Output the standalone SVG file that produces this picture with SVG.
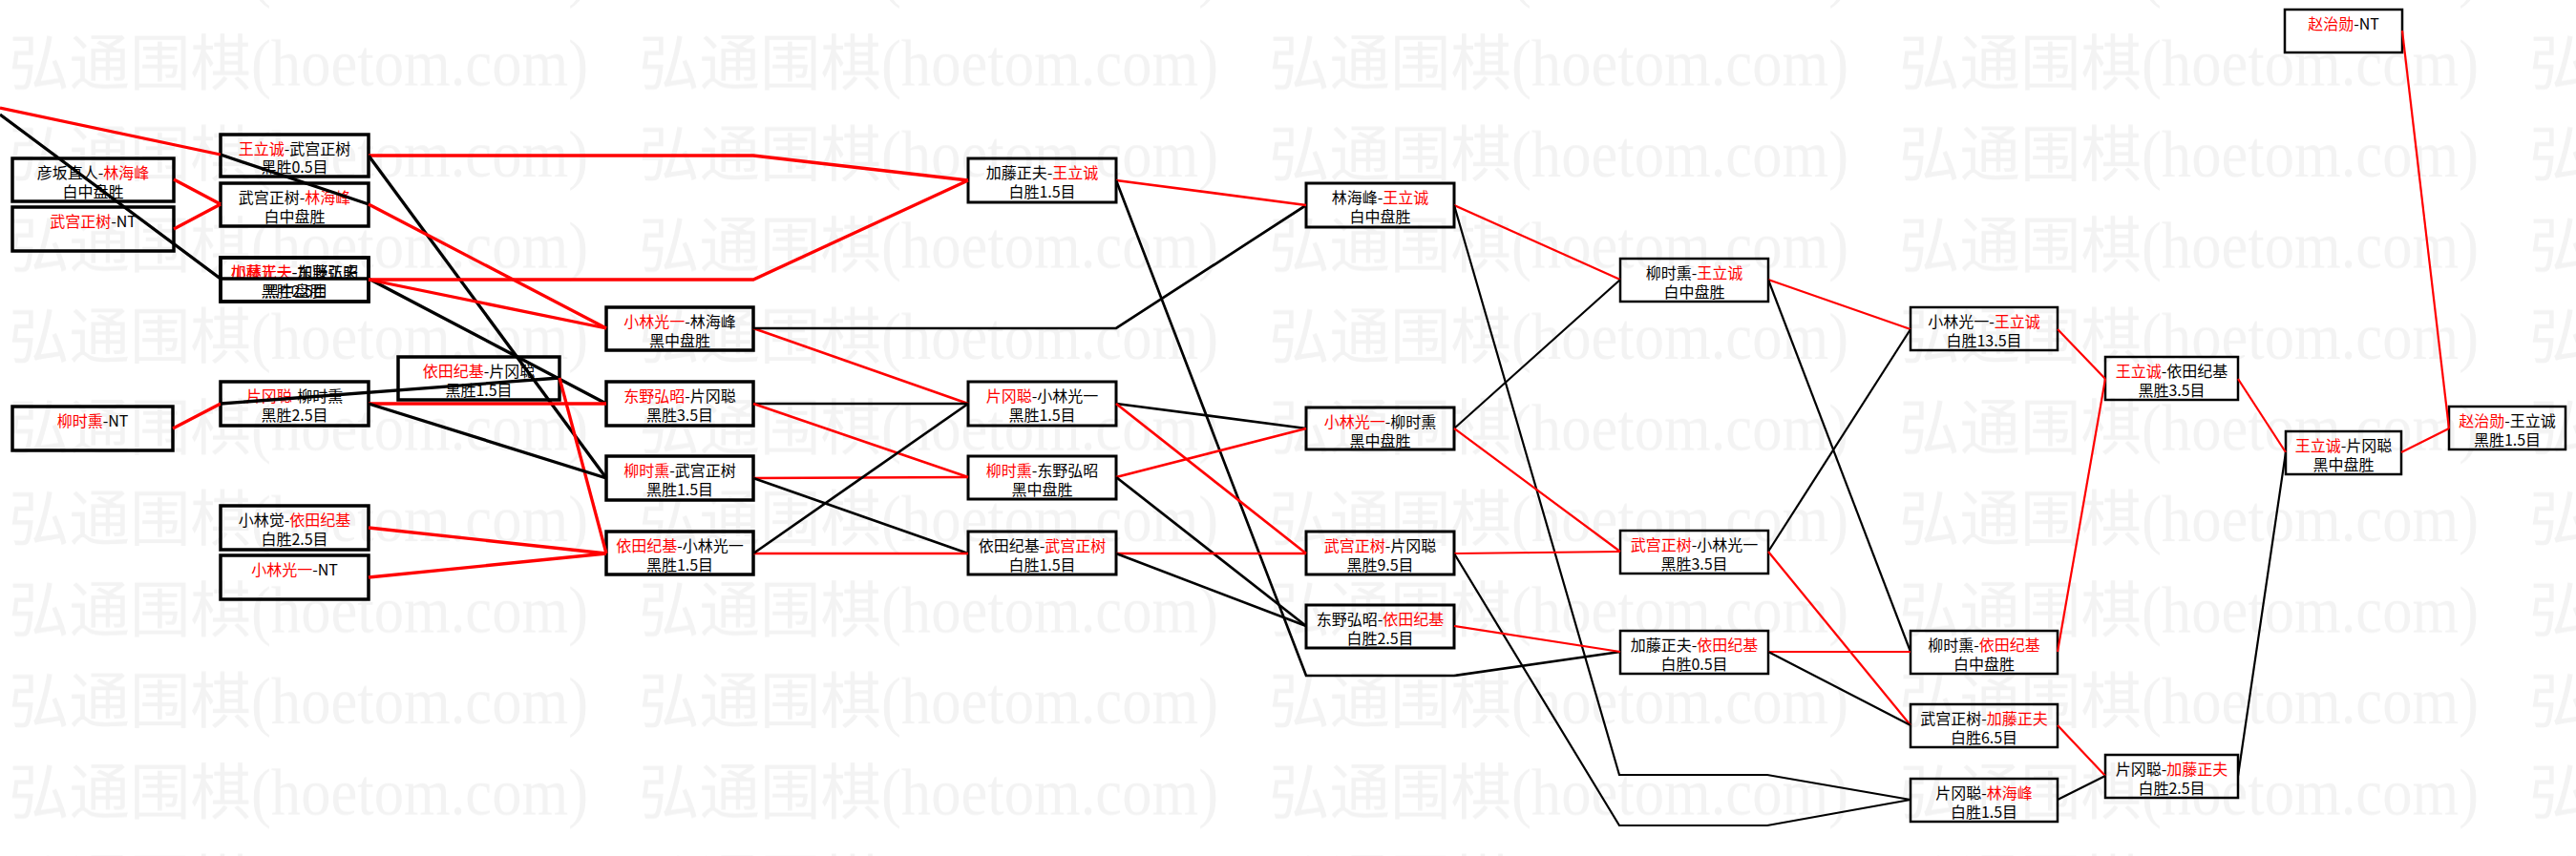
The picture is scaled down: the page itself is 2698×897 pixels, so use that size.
<svg xmlns="http://www.w3.org/2000/svg" width="2698" height="897" viewBox="0 0 2698 897">
<defs>
<style>
.t{font-family:'Noto Sans CJK SC','Noto Sans',sans-serif;font-size:16px;text-anchor:middle;fill:#000}
.red{fill:#f00}
.b1{fill:none;stroke:#000;stroke-width:3.5}
.b2{fill:none;stroke:#000;stroke-width:3}
.b3{fill:none;stroke:#000;stroke-width:2.5}
.c{fill:none;stroke-linejoin:miter}
.r{stroke:#f00}
.k{stroke:#000}
.w1{stroke-width:3.3}
.w2{stroke-width:2.7}
.w3{stroke-width:2.2}
.wmc{font-family:'Noto Sans CJK SC',sans-serif;font-size:63px;fill:#f3f3f3}
.wml{font-family:'Liberation Serif',serif;font-size:70px;fill:#f3f3f3}
</style>
<pattern id="wm" patternUnits="userSpaceOnUse" x="9" y="9" width="660" height="95.5">
<text class="wmc" x="0" y="80" textLength="254" lengthAdjust="spacingAndGlyphs">弘通围棋</text>
<text class="wml" x="254" y="81" textLength="353" lengthAdjust="spacingAndGlyphs">(hoetom.com)</text>
</pattern>
</defs>
<rect x="0" y="0" width="2698" height="897" fill="#fff"/>
<rect x="0" y="0" width="2698" height="897" fill="url(#wm)"/>

<g id="nodes">
<g id="A1"><rect class="b1" x="13" y="166" width="169" height="45"/><text class="t" x="97.5" y="187">彦坂直人-<tspan class="red">林海峰</tspan></text><text class="t" x="97.5" y="206.5">白中盘胜</text></g>
<g id="A2"><rect class="b1" x="13" y="217" width="169" height="46"/><text class="t" x="97.5" y="238"><tspan class="red">武宫正树</tspan>-NT</text></g>
<g id="A3"><rect class="b1" x="13" y="426" width="168" height="46"/><text class="t" x="97" y="447"><tspan class="red">柳时熏</tspan>-NT</text></g>
<g id="B1"><rect class="b1" x="231" y="141" width="155" height="44"/><text class="t" x="308.5" y="162"><tspan class="red">王立诚</tspan>-武宫正树</text><text class="t" x="308.5" y="181">黑胜0.5目</text></g>
<g id="B2"><rect class="b1" x="231" y="192" width="155" height="45"/><text class="t" x="308.5" y="213">武宫正树-<tspan class="red">林海峰</tspan></text><text class="t" x="308.5" y="232.5">白中盘胜</text></g>
<g id="B3a"><rect class="b1" x="231" y="270" width="155" height="46"/><text class="t" x="308.5" y="291"><tspan class="red">加藤正夫</tspan>-东野弘昭</text><text class="t" x="308.5" y="310.5">黑胜2.5目</text></g>
<g id="B3b"><rect class="b1" x="231" y="270" width="155" height="46"/><text class="t" x="308.5" y="291"><tspan class="red">小林光一</tspan>-加藤正夫</text><text class="t" x="308.5" y="310.5">黑中盘胜</text></g>
<g id="B4"><rect class="b1" x="231" y="400" width="155" height="46"/><text class="t" x="308.5" y="421"><tspan class="red">片冈聪</tspan>-柳时熏</text><text class="t" x="308.5" y="440.5">黑胜2.5目</text></g>
<g id="B5"><rect class="b1" x="231" y="530" width="155" height="46"/><text class="t" x="308.5" y="551">小林觉-<tspan class="red">依田纪基</tspan></text><text class="t" x="308.5" y="570.5">白胜2.5目</text></g>
<g id="B6"><rect class="b1" x="231" y="582" width="155" height="46"/><text class="t" x="308.5" y="603"><tspan class="red">小林光一</tspan>-NT</text></g>
<g id="C1"><rect class="b1" x="417" y="374" width="169" height="45"/><text class="t" x="501.5" y="395"><tspan class="red">依田纪基</tspan>-片冈聪</text><text class="t" x="501.5" y="414.5">黑胜1.5目</text></g>
<g id="D1"><rect class="b1" x="635" y="322" width="154" height="45"/><text class="t" x="712" y="343"><tspan class="red">小林光一</tspan>-林海峰</text><text class="t" x="712" y="362.5">黑中盘胜</text></g>
<g id="D2"><rect class="b1" x="635" y="400" width="154" height="46"/><text class="t" x="712" y="421"><tspan class="red">东野弘昭</tspan>-片冈聪</text><text class="t" x="712" y="440.5">黑胜3.5目</text></g>
<g id="D3"><rect class="b1" x="635" y="478" width="154" height="46"/><text class="t" x="712" y="499"><tspan class="red">柳时熏</tspan>-武宫正树</text><text class="t" x="712" y="518.5">黑胜1.5目</text></g>
<g id="D4"><rect class="b1" x="635" y="557" width="154" height="45"/><text class="t" x="712" y="578"><tspan class="red">依田纪基</tspan>-小林光一</text><text class="t" x="712" y="597.5">黑胜1.5目</text></g>
<g id="E1"><rect class="b2" x="1014" y="166" width="155" height="46"/><text class="t" x="1091.5" y="187">加藤正夫-<tspan class="red">王立诚</tspan></text><text class="t" x="1091.5" y="206.5">白胜1.5目</text></g>
<g id="E2"><rect class="b2" x="1014" y="400" width="155" height="46"/><text class="t" x="1091.5" y="421"><tspan class="red">片冈聪</tspan>-小林光一</text><text class="t" x="1091.5" y="440.5">黑胜1.5目</text></g>
<g id="E3"><rect class="b2" x="1014" y="478" width="155" height="45"/><text class="t" x="1091.5" y="499"><tspan class="red">柳时熏</tspan>-东野弘昭</text><text class="t" x="1091.5" y="518.5">黑中盘胜</text></g>
<g id="E4"><rect class="b2" x="1014" y="557" width="155" height="45"/><text class="t" x="1091.5" y="578">依田纪基-<tspan class="red">武宫正树</tspan></text><text class="t" x="1091.5" y="597.5">白胜1.5目</text></g>
<g id="F1"><rect class="b2" x="1368" y="192" width="155" height="46"/><text class="t" x="1445.5" y="213">林海峰-<tspan class="red">王立诚</tspan></text><text class="t" x="1445.5" y="232.5">白中盘胜</text></g>
<g id="F2"><rect class="b2" x="1368" y="427" width="155" height="44"/><text class="t" x="1445.5" y="448"><tspan class="red">小林光一</tspan>-柳时熏</text><text class="t" x="1445.5" y="467.5">黑中盘胜</text></g>
<g id="F3"><rect class="b2" x="1368" y="557" width="155" height="45"/><text class="t" x="1445.5" y="578"><tspan class="red">武宫正树</tspan>-片冈聪</text><text class="t" x="1445.5" y="597.5">黑胜9.5目</text></g>
<g id="F4"><rect class="b2" x="1368" y="634" width="155" height="45"/><text class="t" x="1445.5" y="655">东野弘昭-<tspan class="red">依田纪基</tspan></text><text class="t" x="1445.5" y="674.5">白胜2.5目</text></g>
<g id="G1"><rect class="b3" x="1697" y="271" width="155" height="45"/><text class="t" x="1774.5" y="292">柳时熏-<tspan class="red">王立诚</tspan></text><text class="t" x="1774.5" y="311.5">白中盘胜</text></g>
<g id="G2"><rect class="b3" x="1697" y="556" width="155" height="45"/><text class="t" x="1774.5" y="577"><tspan class="red">武宫正树</tspan>-小林光一</text><text class="t" x="1774.5" y="596.5">黑胜3.5目</text></g>
<g id="G3"><rect class="b3" x="1697" y="661" width="155" height="45"/><text class="t" x="1774.5" y="682">加藤正夫-<tspan class="red">依田纪基</tspan></text><text class="t" x="1774.5" y="701.5">白胜0.5目</text></g>
<g id="H1"><rect class="b3" x="2001" y="322" width="154" height="45"/><text class="t" x="2078" y="343">小林光一-<tspan class="red">王立诚</tspan></text><text class="t" x="2078" y="362.5">白胜13.5目</text></g>
<g id="H2"><rect class="b3" x="2001" y="661" width="154" height="45"/><text class="t" x="2078" y="682">柳时熏-<tspan class="red">依田纪基</tspan></text><text class="t" x="2078" y="701.5">白中盘胜</text></g>
<g id="H3"><rect class="b3" x="2001" y="738" width="154" height="45"/><text class="t" x="2078" y="759">武宫正树-<tspan class="red">加藤正夫</tspan></text><text class="t" x="2078" y="778.5">白胜6.5目</text></g>
<g id="H4"><rect class="b3" x="2001" y="816" width="154" height="45"/><text class="t" x="2078" y="837">片冈聪-<tspan class="red">林海峰</tspan></text><text class="t" x="2078" y="856.5">白胜1.5目</text></g>
<g id="I1"><rect class="b3" x="2205" y="374" width="139" height="45"/><text class="t" x="2274.5" y="395"><tspan class="red">王立诚</tspan>-依田纪基</text><text class="t" x="2274.5" y="414.5">黑胜3.5目</text></g>
<g id="I2"><rect class="b3" x="2205" y="791" width="139" height="45"/><text class="t" x="2274.5" y="812">片冈聪-<tspan class="red">加藤正夫</tspan></text><text class="t" x="2274.5" y="831.5">白胜2.5目</text></g>
<g id="J1"><rect class="b3" x="2394" y="452" width="121" height="45"/><text class="t" x="2454.5" y="473"><tspan class="red">王立诚</tspan>-片冈聪</text><text class="t" x="2454.5" y="492.5">黑中盘胜</text></g>
<g id="J2"><rect class="b3" x="2393" y="10" width="123" height="45"/><text class="t" x="2454.5" y="31"><tspan class="red">赵治勋</tspan>-NT</text></g>
<g id="K1"><rect class="b3" x="2565" y="426" width="122" height="45"/><text class="t" x="2626" y="447"><tspan class="red">赵治勋</tspan>-王立诚</text><text class="t" x="2626" y="466.5">黑胜1.5目</text></g>
</g>

<g id="connectors" class="c">
<polyline class="r w1" points="0,113 231,162"/>
<polyline class="k w1" points="0,120 231,292 386,292 635,423"/>
<polyline class="k w1" points="386,214 231,162"/>
<polyline class="r w1" points="182,188 231,214"/>
<polyline class="r w1" points="182,240 231,214"/>
<polyline class="r w1" points="181,449 231,423"/>
<polyline class="r w1" points="386,163 789,163 1014,189"/>
<polyline class="k w1" points="386,163 635,501"/>
<polyline class="r w1" points="386,214 635,344"/>
<polyline class="r w1" points="386,293 789,293 1014,189"/>
<polyline class="r w1" points="386,293 635,344"/>
<polyline class="k w1" points="586,396 231,423"/>
<polyline class="r w1" points="586,396 635,580"/>
<polyline class="r w1" points="386,423 635,423"/>
<polyline class="k w1" points="386,423 635,501"/>
<polyline class="r w1" points="386,553 635,580"/>
<polyline class="r w1" points="386,605 635,580"/>
<polyline class="r w2" points="789,344 1014,423"/>
<polyline class="k w2" points="789,344 1169,344 1368,215"/>
<polyline class="k w2" points="789,423 1014,423"/>
<polyline class="r w2" points="789,423 1014,500"/>
<polyline class="r w2" points="789,501 1014,500"/>
<polyline class="k w2" points="789,501 1014,580"/>
<polyline class="r w2" points="789,580 1014,580"/>
<polyline class="k w2" points="789,580 1014,423"/>
<polyline class="r w2" points="1169,189 1368,215"/>
<polyline class="k w2" points="1169,189 1368,708 1523,708 1697,683"/>
<polyline class="k w2" points="1169,423 1368,449"/>
<polyline class="r w2" points="1169,423 1368,580"/>
<polyline class="r w2" points="1169,500 1368,449"/>
<polyline class="k w2" points="1169,500 1368,656"/>
<polyline class="r w2" points="1169,580 1368,580"/>
<polyline class="k w2" points="1169,580 1368,656"/>
<polyline class="r w3" points="1523,215 1697,293"/>
<polyline class="k w3" points="1523,215 1696,812 1851,812 2001,838"/>
<polyline class="k w3" points="1523,449 1697,293"/>
<polyline class="r w3" points="1523,449 1697,578"/>
<polyline class="r w3" points="1523,580 1697,578"/>
<polyline class="k w3" points="1523,580 1696,865 1851,865 2001,838"/>
<polyline class="r w3" points="1523,656 1697,683"/>
<polyline class="r w3" points="1852,293 2001,345"/>
<polyline class="k w3" points="1852,293 2001,683"/>
<polyline class="k w3" points="1852,578 2001,345"/>
<polyline class="r w3" points="1852,578 2001,760"/>
<polyline class="r w3" points="1852,683 2001,683"/>
<polyline class="k w3" points="1852,683 2001,760"/>
<polyline class="r w3" points="2155,345 2205,397"/>
<polyline class="r w3" points="2155,683 2205,397"/>
<polyline class="r w3" points="2155,760 2205,813"/>
<polyline class="k w3" points="2155,838 2205,813"/>
<polyline class="r w3" points="2344,397 2394,474"/>
<polyline class="k w3" points="2344,813 2394,474"/>
<polyline class="r w3" points="2515,474 2565,449"/>
<polyline class="r w3" points="2516,32 2565,449"/>
</g>
</svg>
